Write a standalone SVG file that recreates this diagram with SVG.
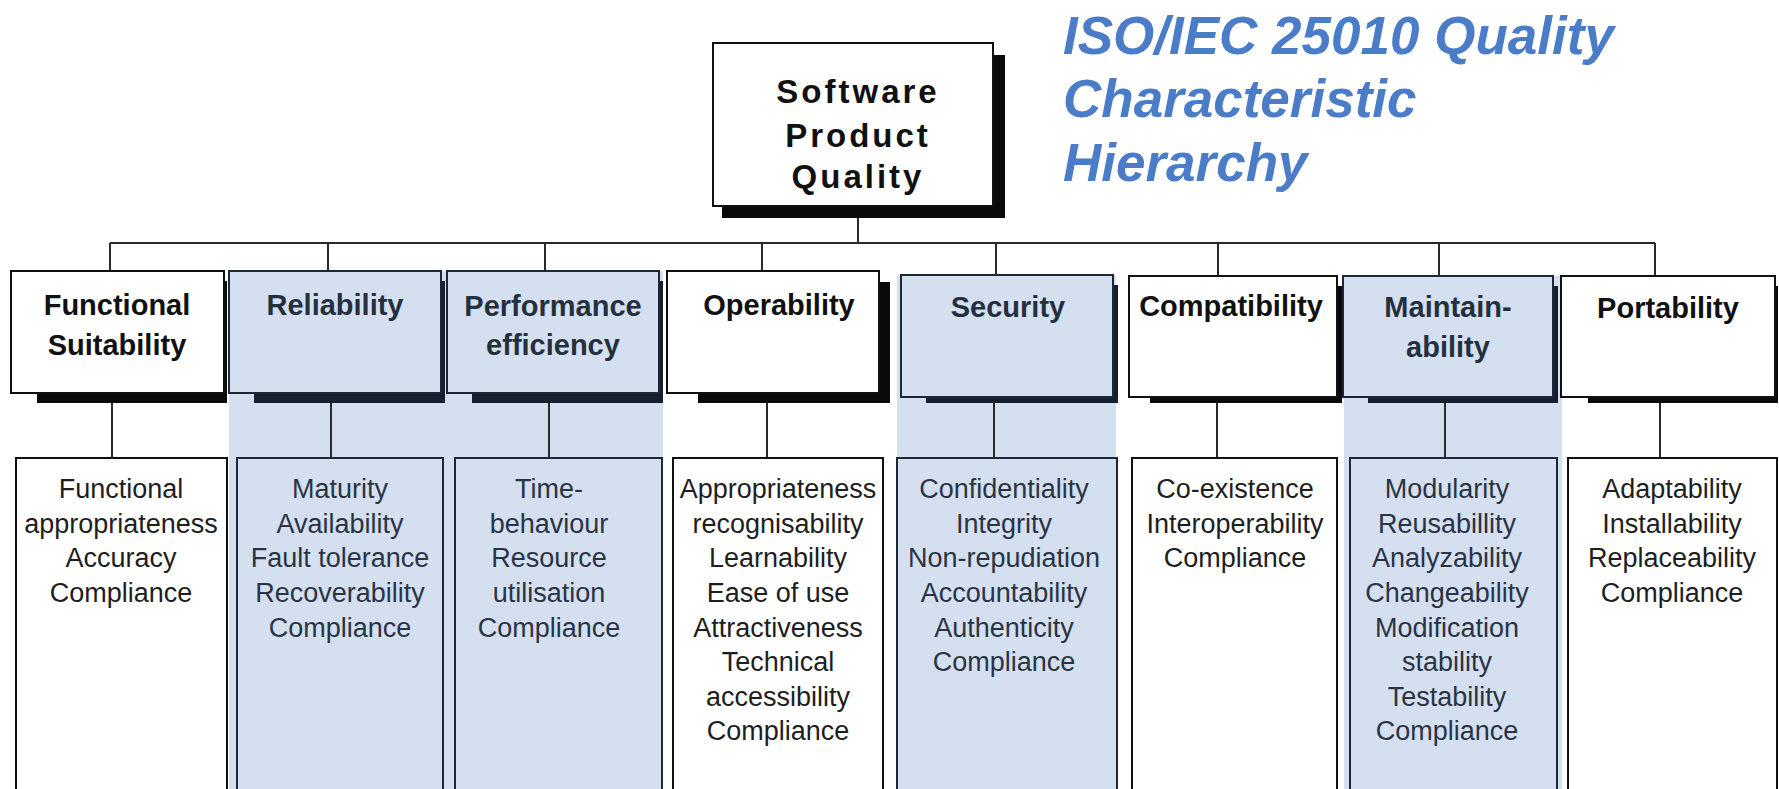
<svg xmlns="http://www.w3.org/2000/svg" width="1779" height="789" viewBox="0 0 1779 789">
<style>
.bg{fill:#ffffff}
.col{fill:#d4dfef}
.boxw{fill:#ffffff;stroke:#111111;stroke-width:2}
.boxb{fill:#d4dfef;stroke:#1c2838;stroke-width:2}
.shw{fill:#0a0a0a}
.shb{fill:#15202e}
.lbl{font-family:"Liberation Sans",Arial,sans-serif;font-weight:bold;font-size:29px;text-anchor:middle;fill:#111111}
.lblb{fill:#25303f}
.item{font-family:"Liberation Sans",Arial,sans-serif;font-size:27px;text-anchor:middle;fill:#1e1e1e}
.itemb{fill:#2a3444}
.root{font-family:"Liberation Sans",Arial,sans-serif;font-weight:bold;font-size:33px;letter-spacing:3px;text-anchor:middle;fill:#111111}
.title{font-family:"Liberation Sans",Arial,sans-serif;font-weight:bold;font-style:italic;font-size:53px;fill:#4a7cc8}
.conn{stroke:#2a2a2a;stroke-width:2;fill:none}
</style>
<rect class="bg" x="0" y="0" width="1779" height="789"/>
<!-- blue column backgrounds -->
<rect class="col" x="229" y="271" width="434" height="520"/>
<rect class="col" x="897" y="275" width="219" height="516"/>
<rect class="col" x="1344" y="276" width="218" height="515"/>

<g id="title">
<text class="title" x="1063" y="54">ISO/IEC 25010 Quality</text>
<text class="title" x="1063" y="117">Characteristic</text>
<text class="title" x="1063" y="181">Hierarchy</text>
</g>

<g id="connectors">
<line class="conn" x1="858" y1="218" x2="858" y2="243"/>
<line class="conn" x1="110" y1="243" x2="1655" y2="243"/>
<line class="conn" x1="110" y1="243" x2="110" y2="271"/>
<line class="conn" x1="328" y1="243" x2="328" y2="271"/>
<line class="conn" x1="545" y1="243" x2="545" y2="271"/>
<line class="conn" x1="762" y1="243" x2="762" y2="271"/>
<line class="conn" x1="996" y1="243" x2="996" y2="275"/>
<line class="conn" x1="1218" y1="243" x2="1218" y2="276"/>
<line class="conn" x1="1439" y1="243" x2="1439" y2="276"/>
<line class="conn" x1="1655" y1="243" x2="1655" y2="276"/>
<line class="conn" x1="112" y1="403" x2="112" y2="458"/>
<line class="conn" x1="331" y1="403" x2="331" y2="458"/>
<line class="conn" x1="549" y1="403" x2="549" y2="458"/>
<line class="conn" x1="767" y1="403" x2="767" y2="458"/>
<line class="conn" x1="994" y1="403" x2="994" y2="458"/>
<line class="conn" x1="1217" y1="403" x2="1217" y2="458"/>
<line class="conn" x1="1445" y1="403" x2="1445" y2="458"/>
<line class="conn" x1="1660" y1="403" x2="1660" y2="458"/>
</g>

<g id="root">
<rect class="shw" x="722" y="55" width="283" height="163"/>
<rect class="boxw" x="713" y="43" width="280" height="163"/>
<text class="root" x="858" y="103">Software</text>
<text class="root" x="858" y="147">Product</text>
<text class="root" x="858" y="188">Quality</text>
</g>

<g id="functional-suitability">
<rect class="shw" x="37" y="281" width="190" height="122"/>
<rect class="boxw" x="11" y="271" width="213" height="122"/>
<text class="lbl" x="117" y="315">Functional</text>
<text class="lbl" x="117" y="355">Suitability</text>
<rect class="boxw" x="16" y="458" width="211" height="345"/>
<text class="item" x="121" y="498">Functional</text>
<text class="item" x="121" y="533">appropriateness</text>
<text class="item" x="121" y="567">Accuracy</text>
<text class="item" x="121" y="602">Compliance</text>
</g>

<g id="reliability">
<rect class="shb" x="254" y="281" width="191" height="122"/>
<rect class="boxb" x="229" y="271" width="212" height="122"/>
<text class="lbl lblb" x="335" y="315">Reliability</text>
<rect class="boxb" x="237" y="458" width="206" height="345"/>
<text class="item itemb" x="340" y="498">Maturity</text>
<text class="item itemb" x="340" y="533">Availability</text>
<text class="item itemb" x="340" y="567">Fault tolerance</text>
<text class="item itemb" x="340" y="602">Recoverability</text>
<text class="item itemb" x="340" y="637">Compliance</text>
</g>

<g id="performance-efficiency">
<rect class="shb" x="472" y="281" width="191" height="122"/>
<rect class="boxb" x="447" y="271" width="212" height="122"/>
<text class="lbl lblb" x="553" y="316">Performance</text>
<text class="lbl lblb" x="553" y="355">efficiency</text>
<rect class="boxb" x="455" y="458" width="207" height="345"/>
<text class="item itemb" x="549" y="498">Time-</text>
<text class="item itemb" x="549" y="533">behaviour</text>
<text class="item itemb" x="549" y="567">Resource</text>
<text class="item itemb" x="549" y="602">utilisation</text>
<text class="item itemb" x="549" y="637">Compliance</text>
</g>

<g id="operability">
<rect class="shw" x="698" y="282" width="192" height="121"/>
<rect class="boxw" x="667" y="271" width="212" height="122"/>
<text class="lbl" x="779" y="315">Operability</text>
<rect class="boxw" x="673" y="458" width="210" height="345"/>
<text class="item" x="778" y="498">Appropriateness</text>
<text class="item" x="778" y="533">recognisability</text>
<text class="item" x="778" y="567">Learnability</text>
<text class="item" x="778" y="602">Ease of use</text>
<text class="item" x="778" y="637">Attractiveness</text>
<text class="item" x="778" y="671">Technical</text>
<text class="item" x="778" y="706">accessibility</text>
<text class="item" x="778" y="740">Compliance</text>
</g>

<g id="security">
<rect class="shb" x="926" y="285" width="192" height="118"/>
<rect class="boxb" x="901" y="275" width="212" height="122"/>
<text class="lbl lblb" x="1008" y="317">Security</text>
<rect class="boxb" x="897" y="458" width="220" height="345"/>
<text class="item itemb" x="1004" y="498">Confidentiality</text>
<text class="item itemb" x="1004" y="533">Integrity</text>
<text class="item itemb" x="1004" y="567">Non-repudiation</text>
<text class="item itemb" x="1004" y="602">Accountability</text>
<text class="item itemb" x="1004" y="637">Authenticity</text>
<text class="item itemb" x="1004" y="671">Compliance</text>
</g>

<g id="compatibility">
<rect class="shw" x="1150" y="286" width="192" height="117"/>
<rect class="boxw" x="1129" y="276" width="208" height="121"/>
<text class="lbl" x="1231" y="316">Compatibility</text>
<rect class="boxw" x="1132" y="458" width="205" height="345"/>
<text class="item" x="1235" y="498">Co-existence</text>
<text class="item" x="1235" y="533">Interoperability</text>
<text class="item" x="1235" y="567">Compliance</text>
</g>

<g id="maintainability">
<rect class="shb" x="1368" y="286" width="190" height="117"/>
<rect class="boxb" x="1343" y="276" width="210" height="121"/>
<text class="lbl lblb" x="1448" y="317">Maintain-</text>
<text class="lbl lblb" x="1448" y="357">ability</text>
<rect class="boxb" x="1350" y="458" width="207" height="345"/>
<text class="item itemb" x="1447" y="498">Modularity</text>
<text class="item itemb" x="1447" y="533">Reusabillity</text>
<text class="item itemb" x="1447" y="567">Analyzability</text>
<text class="item itemb" x="1447" y="602">Changeability</text>
<text class="item itemb" x="1447" y="637">Modification</text>
<text class="item itemb" x="1447" y="671">stability</text>
<text class="item itemb" x="1447" y="706">Testability</text>
<text class="item itemb" x="1447" y="740">Compliance</text>
</g>

<g id="portability">
<rect class="shw" x="1588" y="286" width="190" height="117"/>
<rect class="boxw" x="1561" y="276" width="214" height="121"/>
<text class="lbl" x="1668" y="318">Portability</text>
<rect class="boxw" x="1568" y="458" width="209" height="345"/>
<text class="item" x="1672" y="498">Adaptability</text>
<text class="item" x="1672" y="533">Installability</text>
<text class="item" x="1672" y="567">Replaceability</text>
<text class="item" x="1672" y="602">Compliance</text>
</g>
</svg>
